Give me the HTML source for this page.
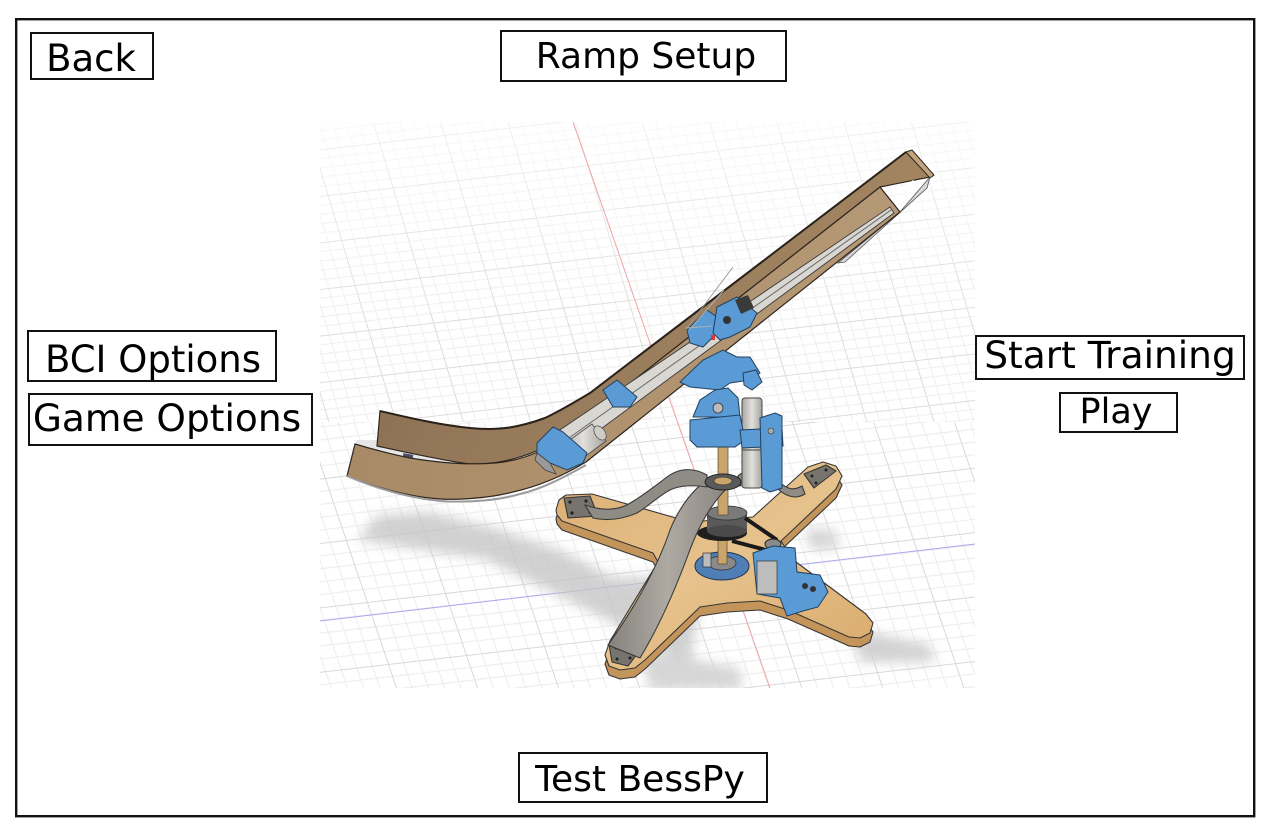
<!DOCTYPE html>
<html><head><meta charset="utf-8">
<style>
html,body{margin:0;padding:0;background:#fff;}
svg{display:block;}
.t{font-family:"DejaVu Sans","Liberation Sans",sans-serif;fill:#000;text-anchor:middle;}
</style></head>
<body>
<svg width="1270" height="832" viewBox="0 0 1270 832" xmlns="http://www.w3.org/2000/svg">
<defs>
  <pattern id="gridA" width="65" height="45" patternUnits="userSpaceOnUse" patternTransform="matrix(1,-0.115,0.3,1,0,0)">
    <path d="M13 0V45M26 0V45M39 0V45M52 0V45M0 9H65M0 18H65M0 27H65M0 36H65" stroke="#efefef" stroke-width="1" fill="none"/>
    <path d="M0.5 0V45M0 0.5H65" stroke="#dcdcdc" stroke-width="1" fill="none"/>
  </pattern>
  <pattern id="gridB" width="78" height="62" patternUnits="userSpaceOnUse" patternTransform="matrix(1,-0.115,0.34,1,0,0)">
    <path d="M15.6 0V62M31.2 0V62M46.8 0V62M62.4 0V62M0 12.4H78M0 24.8H78M0 37.2H78M0 49.6H78" stroke="#ececec" stroke-width="1" fill="none"/>
    <path d="M0.5 0V62M0 0.5H78" stroke="#d8d8d8" stroke-width="1" fill="none"/>
  </pattern>
  <clipPath id="img"><rect x="320" y="122" width="655" height="566"/></clipPath>
  <filter id="blur" x="-20%" y="-20%" width="140%" height="140%"><feGaussianBlur stdDeviation="6"/></filter>
  <linearGradient id="fade" x1="0" y1="0" x2="0" y2="1">
    <stop offset="0" stop-color="#fff" stop-opacity="0.6"/>
    <stop offset="1" stop-color="#fff" stop-opacity="0"/>
  </linearGradient>
  <linearGradient id="woodBack" x1="0" y1="0" x2="1" y2="0.3">
    <stop offset="0" stop-color="#7e6549"/>
    <stop offset="0.35" stop-color="#937758"/>
    <stop offset="1" stop-color="#a48662"/>
  </linearGradient>
  <linearGradient id="woodFront" x1="0" y1="0" x2="1" y2="0">
    <stop offset="0" stop-color="#a88a67"/>
    <stop offset="0.5" stop-color="#b0926e"/>
    <stop offset="1" stop-color="#b59875"/>
  </linearGradient>
  <linearGradient id="baseTop" x1="0" y1="0" x2="1" y2="1">
    <stop offset="0" stop-color="#dcae74"/>
    <stop offset="0.5" stop-color="#e6c28c"/>
    <stop offset="1" stop-color="#d9aa6c"/>
  </linearGradient>
  <linearGradient id="metal" x1="0" y1="0" x2="1" y2="0">
    <stop offset="0" stop-color="#85817b"/>
    <stop offset="0.5" stop-color="#aeaaa3"/>
    <stop offset="1" stop-color="#8a8680"/>
  </linearGradient>
  <linearGradient id="cyl" x1="0" y1="0" x2="1" y2="0">
    <stop offset="0" stop-color="#a9a7a2"/>
    <stop offset="0.5" stop-color="#e2e0dc"/>
    <stop offset="1" stop-color="#a5a39e"/>
  </linearGradient>
</defs>

<rect width="1270" height="832" fill="#fff"/>

<g clip-path="url(#img)">
  <rect x="320" y="122" width="655" height="566" fill="#fff"/>
  <rect x="320" y="122" width="655" height="300" fill="url(#gridA)"/>
  <rect x="320" y="422" width="655" height="266" fill="url(#gridB)"/>
  <rect x="320" y="122" width="655" height="200" fill="url(#fade)"/>
  <line x1="573" y1="122" x2="770" y2="688" stroke="#f1a3a3" stroke-width="1"/>
  <line x1="320" y1="621" x2="975" y2="544" stroke="#a8a8ee" stroke-width="1"/>

  <!-- shadows -->
  <g filter="url(#blur)">
    <polygon points="357,540 378,515 430,512 497,529 560,550 612,577 680,577 700,600 690,666 612,622 485,559" fill="#c6c6c6" opacity="0.8"/>
    <polygon points="805,528 835,530 840,548 810,550" fill="#d6d6d6"/>
    <polygon points="850,628 930,645 935,662 860,662" fill="#d2d2d2"/>
    <polygon points="640,650 740,668 742,690 650,690" fill="#d6d6d6"/>
  </g>

  <!-- RAMP -->
  <polygon points="356,440 378,440 420,450 478,464 450,468 400,459 356,447" fill="#e6e6e8"/>
  <rect x="403" y="454" width="10" height="5" fill="#4a4f66" transform="rotate(10 408 456)"/>
  <path d="M380,411 C410,418 440,425 470,428 C500,431 520,427 545,418 C560,411 575,402 590,393 L906,152 L930,177 L880,187 L573,428 C555,445 520,462 480,464 L470,464 C440,460 405,452 377,446 Z" fill="url(#woodBack)" stroke="#2e261e" stroke-width="1.2"/>
  <polygon points="906,152 912,150 934,175 930,178" fill="#c4a47c" stroke="#2e261e" stroke-width="1"/>
  <polygon points="900,190 913,180 916,183 903,193" fill="#fff"/>
  <polygon points="900,212 930,177 927,188 845,262 838,263" fill="#d8d8d8" stroke="#555" stroke-width="0.8"/>
  <path d="M880,187 L900,212 L586,462 C566,474 540,486 513,492 C490,498 460,500 440,499 C410,497 380,489 347,476 L355,444 C375,450 395,455 410,458 C440,463 470,465 495,463 C530,460 555,445 573,428 Z" fill="url(#woodFront)" stroke="#2e261e" stroke-width="1.2"/>
  <path d="M347,476 C380,490 410,498 440,501 C470,503 500,500 520,494 C545,488 566,476 586,465" fill="none" stroke="#9a9a9a" stroke-width="2"/>
  <!-- slot / rail -->
  <polygon points="890,207 894,213 560,459 545,440" fill="#d9d7d2" stroke="#3a3a3a" stroke-width="0.9"/>
  <line x1="891" y1="210" x2="552" y2="450" stroke="#6a6a6a" stroke-width="1"/>
  <path d="M380,411 C410,418 440,425 470,428 C500,431 520,427 545,418 C560,411 575,402 590,393 L906,152" fill="none" stroke="#2a2119" stroke-width="2"/>

  <!-- ramp brackets -->
  <polygon points="560,447 592,424 606,441 575,464" fill="url(#cyl)" stroke="#555" stroke-width="1"/>
  <ellipse cx="600" cy="433" rx="5" ry="8" fill="#cfcdc8" stroke="#555" stroke-width="0.8" transform="rotate(-36 600 433)"/>
  <polygon points="537,443 553,427 563,432 587,453 583,463 567,470 550,463 537,453" fill="#5a9bd5" stroke="#22405e" stroke-width="1"/>
  <polygon points="537,453 550,463 556,474 545,470 535,460" fill="#9a9a9a" stroke="#444" stroke-width="0.8"/>
  <polygon points="603,390 617,380 637,397 630,407 613,407" fill="#5a9bd5" stroke="#22405e" stroke-width="1"/>
  <polygon points="687,330 707,310 717,317 717,333 703,347 690,343" fill="#5a9bd5" stroke="#22405e" stroke-width="1"/>
  <polygon points="717,307 737,297 757,313 750,327 730,337 720,340 713,333" fill="#5a9bd5" stroke="#22405e" stroke-width="1"/>
  <polygon points="735,300 748,295 754,308 741,314" fill="#3a3a3a"/>
  <circle cx="727" cy="320" r="4" fill="#333"/>
  <rect x="711" y="335" width="4" height="5" fill="#d33"/>
  <line x1="687" y1="328" x2="733" y2="267" stroke="#9a9a9a" stroke-width="1"/>
  <line x1="690" y1="329" x2="724" y2="290" stroke="#b0b0b0" stroke-width="1"/>
  <line x1="686" y1="328" x2="712" y2="326" stroke="#b0b0b0" stroke-width="1"/>

  <!-- BASE -->
  <g stroke="#363636" stroke-width="1.1" stroke-linejoin="round">
    <polygon transform="translate(0,9)" points="556,510 559,500 566,495 592,494 690,522 753,517 808,467 823,462 836,466 842,476 836,489 781,541 792,559 866,614 873,623 870,633 860,638 849,637 788,610 760,601 727,603 700,607 645,660 635,668 620,670 609,666 605,655 610,641 658,562 653,553 562,521 557,515" fill="#c4955b"/>
    <polygon points="556,510 559,500 566,495 592,494 690,522 753,517 808,467 823,462 836,466 842,476 836,489 781,541 792,559 866,614 873,623 870,633 860,638 849,637 788,610 760,601 727,603 700,607 645,660 635,668 620,670 609,666 605,655 610,641 658,562 653,553 562,521 557,515" fill="url(#baseTop)"/>
    <polygon points="564,498 590,496 598,516 568,518" fill="#77736d"/>
    <polygon points="804,474 826,465 836,471 814,488" fill="#77736d"/>
    <polygon points="609,644 628,638 640,650 628,666 612,662" fill="#77736d"/>
  </g>
  <g fill="#222">
    <circle cx="570" cy="502" r="1.6"/><circle cx="586" cy="501" r="1.6"/><circle cx="572" cy="513" r="1.6"/><circle cx="590" cy="512" r="1.6"/>
    <circle cx="812" cy="476" r="1.5"/><circle cx="826" cy="470" r="1.5"/><circle cx="816" cy="483" r="1.5"/>
    <circle cx="616" cy="648" r="1.5"/><circle cx="630" cy="645" r="1.5"/><circle cx="617" cy="659" r="1.5"/><circle cx="630" cy="658" r="1.5"/>
  </g>

  <!-- blue disk and lower shaft -->
  <ellipse cx="722" cy="566" rx="27" ry="14" fill="#4f7fb4" stroke="#1f3550" stroke-width="1"/>
  <ellipse cx="722" cy="563" rx="14" ry="7" fill="#8a8a8a" stroke="#333" stroke-width="0.8"/>
  <rect x="703" y="553" width="8" height="14" fill="#bbb" stroke="#333" stroke-width="0.7"/>
  <rect x="718" y="536" width="9" height="28" fill="#c9a46b" stroke="#5a4a30" stroke-width="0.7"/>

  <!-- gear -->
  <ellipse cx="722" cy="533" rx="25" ry="8" fill="#1e1e1e"/>
  <rect x="707" y="513" width="40" height="18" fill="#5a5a5a"/>
  <ellipse cx="727" cy="531" rx="20" ry="6" fill="#4a4a4a"/>
  <ellipse cx="727" cy="513" rx="20" ry="7" fill="#7a7a7a" stroke="#333" stroke-width="0.8"/>
  <line x1="745" y1="518" x2="777" y2="540" stroke="#1a1a1a" stroke-width="4"/>
  <line x1="732" y1="541" x2="770" y2="551" stroke="#1a1a1a" stroke-width="4"/>
  <ellipse cx="773" cy="544" rx="8" ry="5" fill="#8a8a8a" stroke="#222" stroke-width="1"/>

  <!-- motor mount -->
  <polygon points="753,553 773,546 795,548 797,572 820,575 828,592 818,607 803,611 787,616 780,598 757,594" fill="#5a9bd5" stroke="#22405e" stroke-width="1"/>
  <rect x="757" y="561" width="20" height="33" fill="#bdbdbd" stroke="#444" stroke-width="0.8"/>
  <circle cx="805" cy="586" r="3" fill="#333"/><circle cx="813" cy="589" r="3" fill="#333"/>

  <!-- shaft upper -->
  <rect x="718" y="445" width="10" height="70" fill="#c9a46b" stroke="#5a4a30" stroke-width="0.7"/>

  <!-- metal bands -->
  <path d="M608,645 C640,600 660,560 670,530 C680,505 695,488 707,480 L727,488 C710,505 697,530 688,555 C675,590 660,625 640,658 Z" fill="url(#metal)" stroke="#3a3a3a" stroke-width="1.1"/>
  <path d="M707,475 C695,468 680,467 667,477 C655,486 645,494 632,502 C620,510 605,512 585,505 L593,518 C610,522 625,518 637,513 C650,505 660,495 670,490 C680,485 695,485 707,487 Z" fill="#8f8b85" stroke="#3a3a3a" stroke-width="1.1"/>
  <path d="M738,476 C750,465 765,468 775,478 C785,488 792,492 802,486 L805,494 C795,500 785,496 777,488 C768,478 752,476 740,486 Z" fill="#8f8b85" stroke="#3a3a3a" stroke-width="1.1"/>
  <ellipse cx="723" cy="482" rx="18" ry="8" fill="#5a5a5a" stroke="#222" stroke-width="1"/>
  <ellipse cx="723" cy="481" rx="9" ry="4" fill="#c9a46b" stroke="#333" stroke-width="0.7"/>

  <!-- upper mechanism -->
  <polygon points="680,382 703,360 723,350 737,357 750,357 760,373 750,380 730,383 720,390 690,387" fill="#5a9bd5" stroke="#22405e" stroke-width="1"/>
  <polygon points="743,373 756,370 762,382 752,390 744,385" fill="#5a9bd5" stroke="#22405e" stroke-width="1"/>
  <polygon points="693,417 700,400 715,390 728,388 738,398 740,417" fill="#5a9bd5" stroke="#22405e" stroke-width="1"/>
  <circle cx="718" cy="408" r="5" fill="#bbb" stroke="#333" stroke-width="0.8"/>
  <rect x="742" y="398" width="20" height="90" rx="3" fill="url(#cyl)" stroke="#444" stroke-width="1"/>
  <line x1="742" y1="450" x2="762" y2="450" stroke="#444" stroke-width="1"/>
  <polygon points="690,420 740,415 745,440 735,447 697,447 690,440" fill="#5a9bd5" stroke="#22405e" stroke-width="1"/>
  <polygon points="740,430 782,428 783,446 742,448" fill="#5a9bd5" stroke="#22405e" stroke-width="1"/>
  <rect x="766" y="428" width="16" height="58" fill="url(#cyl)" stroke="#444" stroke-width="0.8"/>
  <polygon points="760,418 775,413 782,416 782,488 770,492 762,488" fill="#5a9bd5" stroke="#22405e" stroke-width="1"/>
  <circle cx="771" cy="431" r="3" fill="#aaa" stroke="#333" stroke-width="0.6"/>
</g>

<!-- outer frame -->
<rect x="16.2" y="19.2" width="1238" height="797" fill="none" stroke="#111" stroke-width="2.4"/>

<!-- buttons -->
<g fill="none" stroke="#111" stroke-width="2">
  <rect x="31" y="33" width="122" height="46"/>
  <rect x="501" y="31" width="285" height="50"/>
  <rect x="28" y="331" width="248" height="50"/>
  <rect x="29" y="394" width="283" height="51"/>
  <rect x="976" y="336" width="268" height="43"/>
  <rect x="1060" y="393" width="117" height="39"/>
  <rect x="519" y="753" width="248" height="49"/>
</g>
<text class="t" x="91" y="71" font-size="37">Back</text>
<text class="t" x="646" y="68" font-size="36">Ramp Setup</text>
<text class="t" x="153" y="372" font-size="37">BCI Options</text>
<text class="t" x="167" y="431" font-size="37.5">Game Options</text>
<text class="t" x="1110" y="368" font-size="37.5">Start Training</text>
<text class="t" x="1116" y="423" font-size="35">Play</text>
<text class="t" x="640" y="791" font-size="36">Test BessPy</text>
</svg>
</body></html>
